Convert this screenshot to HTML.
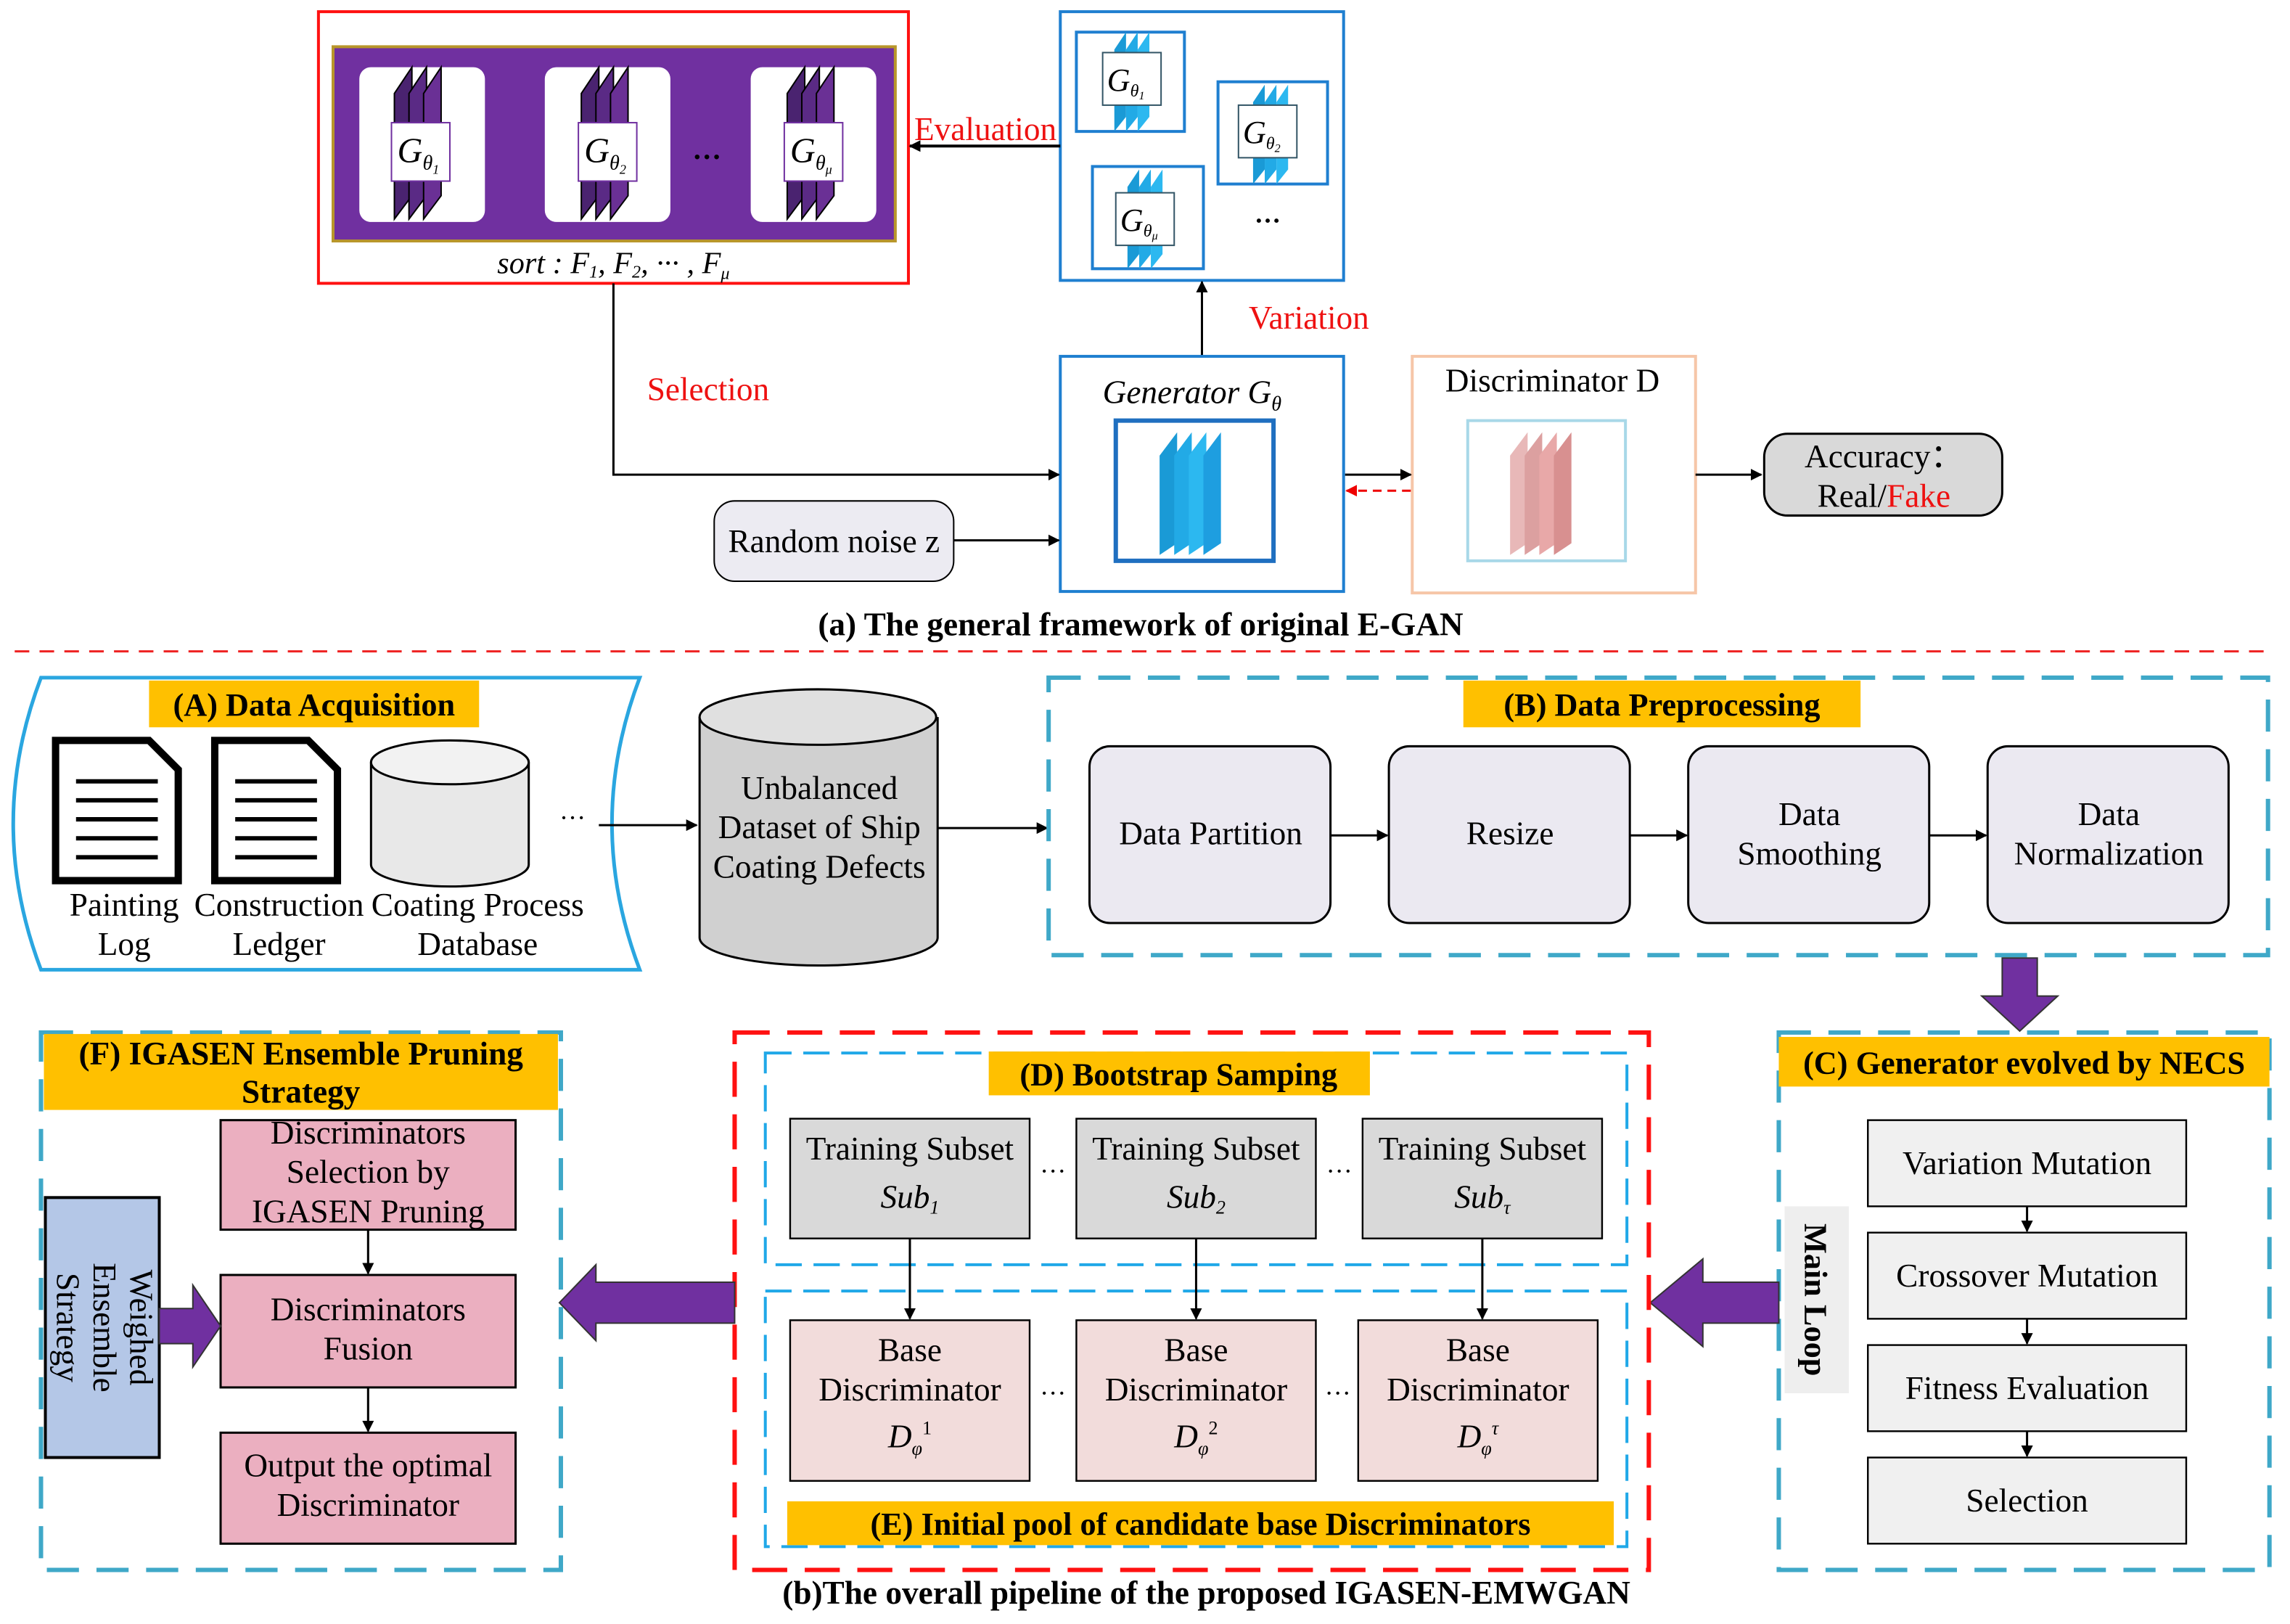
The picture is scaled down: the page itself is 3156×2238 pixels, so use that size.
<!DOCTYPE html>
<html><head><meta charset="utf-8"><style>
html,body{margin:0;padding:0;background:#fff;}
svg{display:block;}
text{font-family:"Liberation Serif",serif;}
</style></head><body>
<svg width="3156" height="2238" viewBox="0 0 1568 1112" xmlns="http://www.w3.org/2000/svg">
<defs>
<marker id="ah" viewBox="0 0 10 10" refX="9" refY="5" markerWidth="8" markerHeight="8" orient="auto" markerUnits="userSpaceOnUse"><path d="M0,0 L10,5 L0,10 z" fill="#000"/></marker>
<marker id="ahr" viewBox="0 0 10 10" refX="9" refY="5" markerWidth="8" markerHeight="8" orient="auto" markerUnits="userSpaceOnUse"><path d="M0,0 L10,5 L0,10 z" fill="#e00"/></marker>
<g id="pstack">
 <polygon points="-18,-36 -6,-54 -6,34 -18,50" fill="#4a2370" stroke="#000" stroke-width="1"/>
 <polygon points="-8,-36 4,-54 4,34 -8,50" fill="#5a2a85" stroke="#000" stroke-width="1"/>
 <polygon points="2,-36 14,-54 14,34 2,50" fill="#6a3095" stroke="#000" stroke-width="1"/>
</g>
<g id="bstack">
 <polygon points="-14,-22 -6,-34 -6,24 -14,34" fill="#1a9ad6"/>
 <polygon points="-6,-22 2,-34 2,24 -6,34" fill="#22aae6"/>
 <polygon points="2,-22 10,-34 10,24 2,34" fill="#2cb8f0"/>
</g>
</defs>

<!-- ===== TOP (a) ===== -->
<rect x="218" y="8" width="404" height="186" fill="#fff" stroke="#f11" stroke-width="2"/>
<rect x="228" y="32" width="385" height="133" fill="#7030a0" stroke="#b8962a" stroke-width="2"/>
<g>
 <rect x="246" y="46" width="86" height="106" rx="8" fill="#fff"/>
 <rect x="373" y="46" width="86" height="106" rx="8" fill="#fff"/>
 <rect x="514" y="46" width="86" height="106" rx="8" fill="#fff"/>
 <use href="#pstack" x="288" y="100"/>
 <use href="#pstack" x="416" y="100"/>
 <use href="#pstack" x="557" y="100"/>
 <rect x="268" y="84" width="40" height="40" fill="#fff" stroke="#7030a0"/>
 <rect x="396" y="84" width="40" height="40" fill="#fff" stroke="#7030a0"/>
 <rect x="537" y="84" width="40" height="40" fill="#fff" stroke="#7030a0"/>
 <text x="272" y="111" font-size="24" font-style="italic">G<tspan font-size="14" dy="5">θ<tspan font-size="9" dy="3">1</tspan></tspan></text>
 <text x="400" y="111" font-size="24" font-style="italic">G<tspan font-size="14" dy="5">θ<tspan font-size="9" dy="3">2</tspan></tspan></text>
 <text x="541" y="111" font-size="24" font-style="italic">G<tspan font-size="14" dy="5">θ<tspan font-size="9" dy="3">μ</tspan></tspan></text>
 <text x="484" y="114" font-size="20" font-weight="bold" text-anchor="middle">···</text>
</g>
<text x="420" y="187" font-size="21" font-style="italic" text-anchor="middle">sort : F<tspan font-size="12" dy="3">1</tspan><tspan dy="-3">, F</tspan><tspan font-size="12" dy="3">2</tspan><tspan dy="-3">, ··· , F</tspan><tspan font-size="12" dy="4">μ</tspan></text>

<rect x="726" y="8" width="194" height="184" fill="#fff" stroke="#1f7fd0" stroke-width="2"/>
<g>
 <rect x="737" y="22" width="74" height="68" fill="#fff" stroke="#1f7fd0" stroke-width="2"/>
 <use href="#bstack" x="777" y="56"/>
 <rect x="755" y="36" width="40" height="36" fill="#fff" stroke="#356"/>
 <text x="758" y="62" font-size="22" font-style="italic">G<tspan font-size="12" dy="4">θ<tspan font-size="8" dy="2">1</tspan></tspan></text>
 <rect x="834" y="56" width="75" height="70" fill="#fff" stroke="#1f7fd0" stroke-width="2"/>
 <use href="#bstack" x="872" y="92"/>
 <rect x="848" y="72" width="40" height="36" fill="#fff" stroke="#356"/>
 <text x="851" y="98" font-size="22" font-style="italic">G<tspan font-size="12" dy="4">θ<tspan font-size="8" dy="2">2</tspan></tspan></text>
 <rect x="748" y="114" width="76" height="70" fill="#fff" stroke="#1f7fd0" stroke-width="2"/>
 <use href="#bstack" x="786" y="150"/>
 <rect x="764" y="132" width="40" height="36" fill="#fff" stroke="#356"/>
 <text x="767" y="158" font-size="22" font-style="italic">G<tspan font-size="12" dy="4">θ<tspan font-size="8" dy="2">μ</tspan></tspan></text>
 <text x="868" y="157" font-size="18" font-weight="bold" text-anchor="middle">···</text>
</g>
<line x1="726" y1="100" x2="623" y2="100" stroke="#000" stroke-width="2" marker-end="url(#ah)"/>
<text x="626" y="96" font-size="22.5" fill="#e11">Evaluation</text>
<line x1="823" y1="244" x2="823" y2="193" stroke="#000" stroke-width="1.5" marker-end="url(#ah)"/>
<text x="855" y="225" font-size="22.5" fill="#e11">Variation</text>

<rect x="726" y="244" width="194" height="161" fill="#fff" stroke="#1f7fd0" stroke-width="2"/>
<text x="755" y="276" font-size="22.5" font-style="italic">Generator G<tspan font-size="14" dy="5">θ</tspan></text>
<rect x="764" y="288" width="108" height="96" fill="#fff" stroke="#1f6fc0" stroke-width="3"/>
<g>
 <polygon points="794,312 806,296 806,372 794,380" fill="#1a9ad6"/>
 <polygon points="804,312 816,296 816,372 804,380" fill="#22aae6"/>
 <polygon points="814,312 826,296 826,372 814,380" fill="#2cb8f0"/>
 <polygon points="824,312 836,296 836,372 824,380" fill="#1e9ee0"/>
</g>

<rect x="967" y="244" width="194" height="162" fill="#fff" stroke="#f6c6a8" stroke-width="2"/>
<text x="1063" y="268" font-size="22.5" text-anchor="middle">Discriminator D</text>
<rect x="1005" y="288" width="108" height="96" fill="#fff" stroke="#a8d8e8" stroke-width="2"/>
<g>
 <polygon points="1034,312 1046,296 1046,372 1034,380" fill="#e8b8b8"/>
 <polygon points="1044,312 1056,296 1056,372 1044,380" fill="#dca0a0"/>
 <polygon points="1054,312 1066,296 1066,372 1054,380" fill="#e8a8a8"/>
 <polygon points="1064,312 1076,296 1076,372 1064,380" fill="#d89090"/>
</g>

<polyline points="420,194 420,325 725,325" fill="none" stroke="#000" stroke-width="1.5" marker-end="url(#ah)"/>
<text x="443" y="274" font-size="22.5" fill="#e11">Selection</text>
<rect x="489" y="343" width="164" height="55" rx="14" fill="#ecebf2" stroke="#000" stroke-width="1"/>
<text x="571" y="378" font-size="22.5" text-anchor="middle">Random noise z</text>
<line x1="653" y1="370" x2="725" y2="370" stroke="#000" stroke-width="1.5" marker-end="url(#ah)"/>
<line x1="921" y1="325" x2="966" y2="325" stroke="#000" stroke-width="1.5" marker-end="url(#ah)"/>
<line x1="966" y1="336" x2="922" y2="336" stroke="#e00" stroke-width="1.5" stroke-dasharray="6,4" marker-end="url(#ahr)"/>
<line x1="1161" y1="325" x2="1206" y2="325" stroke="#000" stroke-width="1.5" marker-end="url(#ah)"/>
<rect x="1208" y="297" width="163" height="56" rx="16" fill="#d9d9d9" stroke="#000" stroke-width="1.5"/>
<text x="1290" y="320" font-size="22.5" text-anchor="middle">Accuracy：</text>
<text x="1290" y="347" font-size="22.5" text-anchor="middle">Real/<tspan fill="#e11">Fake</tspan></text>
<text x="781" y="435" font-size="22.5" font-weight="bold" text-anchor="middle">(a) The general framework of original E-GAN</text>
<line x1="10" y1="446" x2="1550" y2="446" stroke="#e22" stroke-width="1.5" stroke-dasharray="10,7"/>

<!-- ===== BOTTOM (b) ===== -->
<path d="M28,464 L438,464 Q400,564 438,664 L28,664 Q-10,564 28,464 Z" fill="#fff" stroke="#2aa6e0" stroke-width="2.5"/>
<rect x="102" y="466" width="226" height="32" fill="#ffc000"/>
<text x="215" y="490" font-size="22" font-weight="bold" text-anchor="middle">(A) Data Acquisition</text>
<g stroke="#000" stroke-width="5" fill="#fff">
 <path d="M38,507 L102,507 L122,527 L122,603 L38,603 Z"/>
 <path d="M147,507 L211,507 L231,527 L231,603 L147,603 Z"/>
</g>
<g stroke="#000" stroke-width="3">
 <line x1="52" y1="535" x2="108" y2="535"/><line x1="52" y1="548" x2="108" y2="548"/><line x1="52" y1="561" x2="108" y2="561"/><line x1="52" y1="574" x2="108" y2="574"/><line x1="52" y1="587" x2="108" y2="587"/>
 <line x1="161" y1="535" x2="217" y2="535"/><line x1="161" y1="548" x2="217" y2="548"/><line x1="161" y1="561" x2="217" y2="561"/><line x1="161" y1="574" x2="217" y2="574"/><line x1="161" y1="587" x2="217" y2="587"/>
</g>
<path d="M254,522 L254,592 A54,15 0 0 0 362,592 L362,522" fill="#e8e8e8" stroke="#000" stroke-width="1.5"/>
<ellipse cx="308" cy="522" rx="54" ry="15" fill="#f2f2f2" stroke="#000" stroke-width="1.5"/>
<text x="392" y="566" font-size="18" text-anchor="middle">···</text>
<g font-size="22.5" text-anchor="middle">
 <text x="85" y="627">Painting</text><text x="85" y="654">Log</text>
 <text x="191" y="627">Construction</text><text x="191" y="654">Ledger</text>
 <text x="327" y="627">Coating Process</text><text x="327" y="654">Database</text>
</g>
<line x1="410" y1="565" x2="477" y2="565" stroke="#000" stroke-width="1.5" marker-end="url(#ah)"/>
<path d="M479,491 L479,642 A81,19 0 0 0 642,642 L642,491" fill="#d0d0d0" stroke="#000" stroke-width="1.5"/>
<ellipse cx="560" cy="491" rx="81" ry="19" fill="#e0e0e0" stroke="#000" stroke-width="1.5"/>
<g font-size="22.5" text-anchor="middle">
 <text x="561" y="547">Unbalanced</text><text x="561" y="574">Dataset of Ship</text><text x="561" y="601">Coating Defects</text>
</g>
<line x1="642" y1="567" x2="717" y2="567" stroke="#000" stroke-width="1.5" marker-end="url(#ah)"/>

<rect x="718" y="464" width="835" height="190" fill="none" stroke="#3fa8c8" stroke-width="3" stroke-dasharray="22,12"/>
<rect x="1002" y="466" width="272" height="32" fill="#ffc000"/>
<text x="1138" y="490" font-size="22" font-weight="bold" text-anchor="middle">(B) Data Preprocessing</text>
<g fill="#ebe9f1" stroke="#000" stroke-width="1.5">
 <rect x="746" y="511" width="165" height="121" rx="14"/>
 <rect x="951" y="511" width="165" height="121" rx="14"/>
 <rect x="1156" y="511" width="165" height="121" rx="14"/>
 <rect x="1361" y="511" width="165" height="121" rx="14"/>
</g>
<g font-size="22.5" text-anchor="middle">
 <text x="829" y="578">Data Partition</text>
 <text x="1034" y="578">Resize</text>
 <text x="1239" y="565">Data</text><text x="1239" y="592">Smoothing</text>
 <text x="1444" y="565">Data</text><text x="1444" y="592">Normalization</text>
</g>
<line x1="911" y1="572" x2="950" y2="572" stroke="#000" stroke-width="1.5" marker-end="url(#ah)"/>
<line x1="1116" y1="572" x2="1155" y2="572" stroke="#000" stroke-width="1.5" marker-end="url(#ah)"/>
<line x1="1321" y1="572" x2="1360" y2="572" stroke="#000" stroke-width="1.5" marker-end="url(#ah)"/>
<polygon points="1371,656 1395,656 1395,682 1409,682 1383,706 1357,682 1371,682" fill="#7030a0" stroke="#333"/>

<rect x="1218" y="707" width="336" height="368" fill="none" stroke="#3fa8c8" stroke-width="3" stroke-dasharray="22,12"/>
<rect x="1218" y="710" width="336" height="34" fill="#ffc000"/>
<text x="1386" y="735" font-size="22" font-weight="bold" text-anchor="middle">(C) Generator evolved by NECS</text>
<g fill="#f0f0f0" stroke="#000" stroke-width="1.2">
 <rect x="1279" y="767" width="218" height="59"/>
 <rect x="1279" y="844" width="218" height="59"/>
 <rect x="1279" y="921" width="218" height="59"/>
 <rect x="1279" y="998" width="218" height="59"/>
</g>
<g font-size="22.5" text-anchor="middle">
 <text x="1388" y="804">Variation Mutation</text>
 <text x="1388" y="881">Crossover Mutation</text>
 <text x="1388" y="958">Fitness Evaluation</text>
 <text x="1388" y="1035">Selection</text>
</g>
<line x1="1388" y1="826" x2="1388" y2="843" stroke="#000" stroke-width="1.5" marker-end="url(#ah)"/>
<line x1="1388" y1="903" x2="1388" y2="920" stroke="#000" stroke-width="1.5" marker-end="url(#ah)"/>
<line x1="1388" y1="980" x2="1388" y2="997" stroke="#000" stroke-width="1.5" marker-end="url(#ah)"/>
<rect x="1222" y="826" width="44" height="128" fill="#eeeeee"/>
<text transform="translate(1236,890) rotate(90)" font-size="22" font-weight="bold" text-anchor="middle">Main Loop</text>
<polygon points="1218,878 1166,878 1166,862 1130,892 1166,922 1166,906 1218,906" fill="#7030a0" stroke="#333"/>

<rect x="503" y="707" width="626" height="368" fill="none" stroke="#f11" stroke-width="3" stroke-dasharray="24,12"/>
<rect x="524" y="721" width="590" height="145" fill="none" stroke="#20a8e8" stroke-width="2" stroke-dasharray="18,8"/>
<rect x="677" y="720" width="261" height="30" fill="#ffc000"/>
<text x="807" y="743" font-size="22" font-weight="bold" text-anchor="middle">(D) Bootstrap  Samping</text>
<g fill="#d9d9d9" stroke="#000" stroke-width="1.2">
 <rect x="541" y="766" width="164" height="82"/>
 <rect x="737" y="766" width="164" height="82"/>
 <rect x="933" y="766" width="164" height="82"/>
</g>
<g font-size="22.5" text-anchor="middle">
 <text x="623" y="794">Training Subset</text><text x="623" y="827" font-style="italic">Sub<tspan font-size="13" dy="4">1</tspan></text>
 <text x="819" y="794">Training Subset</text><text x="819" y="827" font-style="italic">Sub<tspan font-size="13" dy="4">2</tspan></text>
 <text x="1015" y="794">Training Subset</text><text x="1015" y="827" font-style="italic">Sub<tspan font-size="13" dy="4">τ</tspan></text>
 <text x="721" y="808" font-size="18">···</text><text x="917" y="808" font-size="18">···</text>
</g>
<rect x="524" y="884" width="590" height="175" fill="none" stroke="#20a8e8" stroke-width="2" stroke-dasharray="18,8"/>
<g fill="#f2dcdb" stroke="#000" stroke-width="1.2">
 <rect x="541" y="904" width="164" height="110"/>
 <rect x="737" y="904" width="164" height="110"/>
 <rect x="930" y="904" width="164" height="110"/>
</g>
<g font-size="22.5" text-anchor="middle">
 <text x="623" y="932">Base</text><text x="623" y="959">Discriminator</text><text x="623" y="991" font-style="italic">D<tspan font-size="13" dy="5">φ</tspan><tspan font-size="13" dy="-14" font-style="normal">1</tspan></text>
 <text x="819" y="932">Base</text><text x="819" y="959">Discriminator</text><text x="819" y="991" font-style="italic">D<tspan font-size="13" dy="5">φ</tspan><tspan font-size="13" dy="-14" font-style="normal">2</tspan></text>
 <text x="1012" y="932">Base</text><text x="1012" y="959">Discriminator</text><text x="1012" y="991" font-style="italic">D<tspan font-size="13" dy="5">φ</tspan><tspan font-size="13" dy="-14">τ</tspan></text>
 <text x="721" y="960" font-size="18">···</text><text x="916" y="960" font-size="18">···</text>
</g>
<line x1="623" y1="848" x2="623" y2="903" stroke="#000" stroke-width="1.5" marker-end="url(#ah)"/>
<line x1="819" y1="848" x2="819" y2="903" stroke="#000" stroke-width="1.5" marker-end="url(#ah)"/>
<line x1="1015" y1="848" x2="1015" y2="903" stroke="#000" stroke-width="1.5" marker-end="url(#ah)"/>
<rect x="539" y="1028" width="566" height="30" fill="#ffc000"/>
<text x="822" y="1051" font-size="22" font-weight="bold" text-anchor="middle">(E) Initial pool of candidate base Discriminators</text>
<polygon points="503,878 408,878 408,866 383,892 408,918 408,906 503,906" fill="#7030a0" stroke="#333"/>

<rect x="28" y="707" width="356" height="368" fill="none" stroke="#3fa8c8" stroke-width="3" stroke-dasharray="22,12"/>
<rect x="30" y="708" width="352" height="52" fill="#ffc000"/>
<text x="206" y="729" font-size="22.5" font-weight="bold" text-anchor="middle">(F) IGASEN Ensemble Pruning</text>
<text x="206" y="755" font-size="22.5" font-weight="bold" text-anchor="middle">Strategy</text>
<g fill="#ebafc0" stroke="#000" stroke-width="1.5">
 <rect x="151" y="767" width="202" height="75"/>
 <rect x="151" y="873" width="202" height="77"/>
 <rect x="151" y="981" width="202" height="76"/>
</g>
<g font-size="22.5" text-anchor="middle">
 <text x="252" y="783">Discriminators</text><text x="252" y="810">Selection by</text><text x="252" y="837">IGASEN Pruning</text>
 <text x="252" y="904">Discriminators</text><text x="252" y="931">Fusion</text>
 <text x="252" y="1011">Output the optimal</text><text x="252" y="1038">Discriminator</text>
</g>
<line x1="252" y1="842" x2="252" y2="872" stroke="#000" stroke-width="1.5" marker-end="url(#ah)"/>
<line x1="252" y1="950" x2="252" y2="980" stroke="#000" stroke-width="1.5" marker-end="url(#ah)"/>
<rect x="31" y="820" width="78" height="178" fill="#b4c7e7" stroke="#000" stroke-width="2"/>
<g font-size="22.5" text-anchor="middle">
 <text transform="translate(89,909) rotate(90)">Weighed</text>
 <text transform="translate(64,909) rotate(90)">Ensemble</text>
 <text transform="translate(39,909) rotate(90)">Strategy</text>
</g>
<polygon points="109,896 132,896 132,880 151,908 132,936 132,920 109,920" fill="#7030a0" stroke="#333"/>

<text x="826" y="1098" font-size="22.5" font-weight="bold" text-anchor="middle">(b)The overall pipeline of the proposed IGASEN-EMWGAN</text>
</svg>
</body></html>
